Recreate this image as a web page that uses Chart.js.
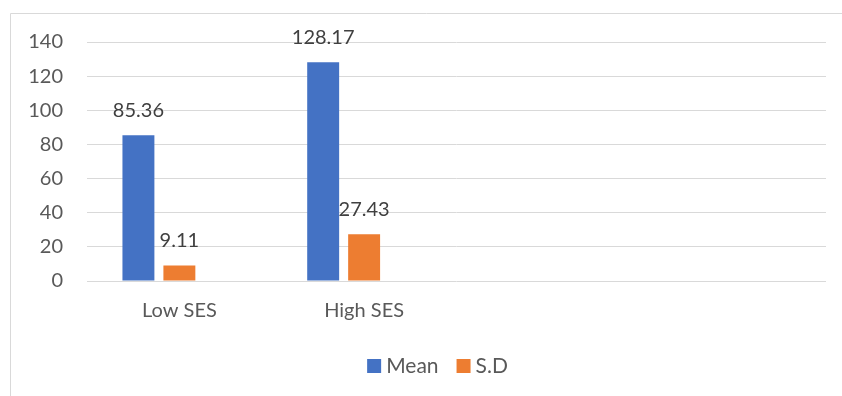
<!DOCTYPE html>
<html>
<head>
<meta charset="utf-8">
<script src="https://cdn.jsdelivr.net/npm/chart.js@4.4.1/dist/chart.umd.min.js"></script>
<style>
html,body{margin:0;padding:0;background:#fff;}
#wrap{position:relative;width:842px;height:396px;}
</style>
</head>
<body>
<div id="wrap"><canvas id="c" width="842" height="396"></canvas></div>
<script>
const categories = ["Low SES", "High SES", "", ""];
const meanValues = [85.36, 128.17, null, null];
const sdValues = [9.11, 27.43, null, null];
const emptySeries = [null, null, null, null];
const seriesNames = ["Mean", "S.D"];
const yTicks = { min: 0, max: 140, step: 20 };

const TEXT = '#595959';
const FONT = 'Lato, "Liberation Sans", sans-serif';

const borderPlugin = {
  id: 'outerBorder',
  beforeDraw(chart) {
    const ctx = chart.ctx;
    ctx.save();
    ctx.strokeStyle = '#D9D9D9';
    ctx.lineWidth = 1;
    ctx.beginPath();
    ctx.moveTo(10.5, 400);
    ctx.lineTo(10.5, 13.5);
    ctx.lineTo(850, 13.5);
    ctx.stroke();
    ctx.restore();
  }
};

const labelPlugin = {
  id: 'valueLabels',
  afterDatasetsDraw(chart) {
    const ctx = chart.ctx;
    ctx.save();
    ctx.font = '20px ' + FONT;
    ctx.fillStyle = '#404040';
    ctx.textAlign = 'center';
    ctx.textBaseline = 'middle';
    chart.data.datasets.forEach((ds, i) => {
      const meta = chart.getDatasetMeta(i);
      meta.data.forEach((bar, j) => {
        const v = ds.data[j];
        if (v === null || v === undefined) return;
        ctx.fillText(v.toFixed(2), bar.x, bar.y - 25);
      });
    });
    ctx.restore();
  }
};

const legendPlugin = {
  id: 'customLegend',
  afterDraw(chart) {
    const ctx = chart.ctx;
    ctx.save();
    ctx.font = '21px ' + FONT;
    ctx.textBaseline = 'middle';
    const box = 14, gapText = 5, gapItem = 18;
    const items = chart.data.datasets.filter(d => d.label !== '');
    let total = 0;
    items.forEach((d, i) => {
      total += box + gapText + ctx.measureText(d.label).width + (i < items.length - 1 ? gapItem : 0);
    });
    const cx = 437.5, cy = 366;
    let x = cx - total / 2;
    items.forEach((d) => {
      ctx.fillStyle = d.backgroundColor;
      ctx.fillRect(x, cy - box / 2, box, box);
      x += box + gapText;
      ctx.fillStyle = TEXT;
      ctx.textAlign = 'left';
      ctx.fillText(d.label, x, cy);
      x += ctx.measureText(d.label).width + gapItem;
    });
    ctx.restore();
  }
};

new Chart(document.getElementById('c'), {
  type: 'bar',
  data: {
    labels: categories,
    datasets: [
      { label: seriesNames[0], data: meanValues, backgroundColor: '#4472C4' },
      { label: seriesNames[1], data: sdValues, backgroundColor: '#ED7D31' },
      { label: '', data: emptySeries, backgroundColor: '#A5A5A5' }
    ]
  },
  options: {
    responsive: false,
    animation: false,
    devicePixelRatio: 1,
    categoryPercentage: 0.665,
    barPercentage: 0.78,
    layout: { padding: { left: 0, right: 16, top: 42, bottom: 71 } },
    plugins: {
      legend: { display: false },
      tooltip: { enabled: false }
    },
    scales: {
      x: {
        grid: { display: false, drawTicks: false },
        border: { display: false },
        ticks: { font: { size: 20, family: FONT }, color: TEXT, padding: 18, maxRotation: 0 },
        afterFit(scale) { scale.height = 44; }
      },
      y: {
        min: yTicks.min,
        max: yTicks.max,
        ticks: { stepSize: yTicks.step, font: { size: 20, family: FONT }, color: TEXT, padding: 24 },
        grid: { color: '#D9D9D9', lineWidth: 1, drawTicks: false },
        border: { display: false },
        afterFit(scale) { scale.width = 87; }
      }
    }
  },
  plugins: [borderPlugin, labelPlugin, legendPlugin]
});
</script>
</body>
</html>
